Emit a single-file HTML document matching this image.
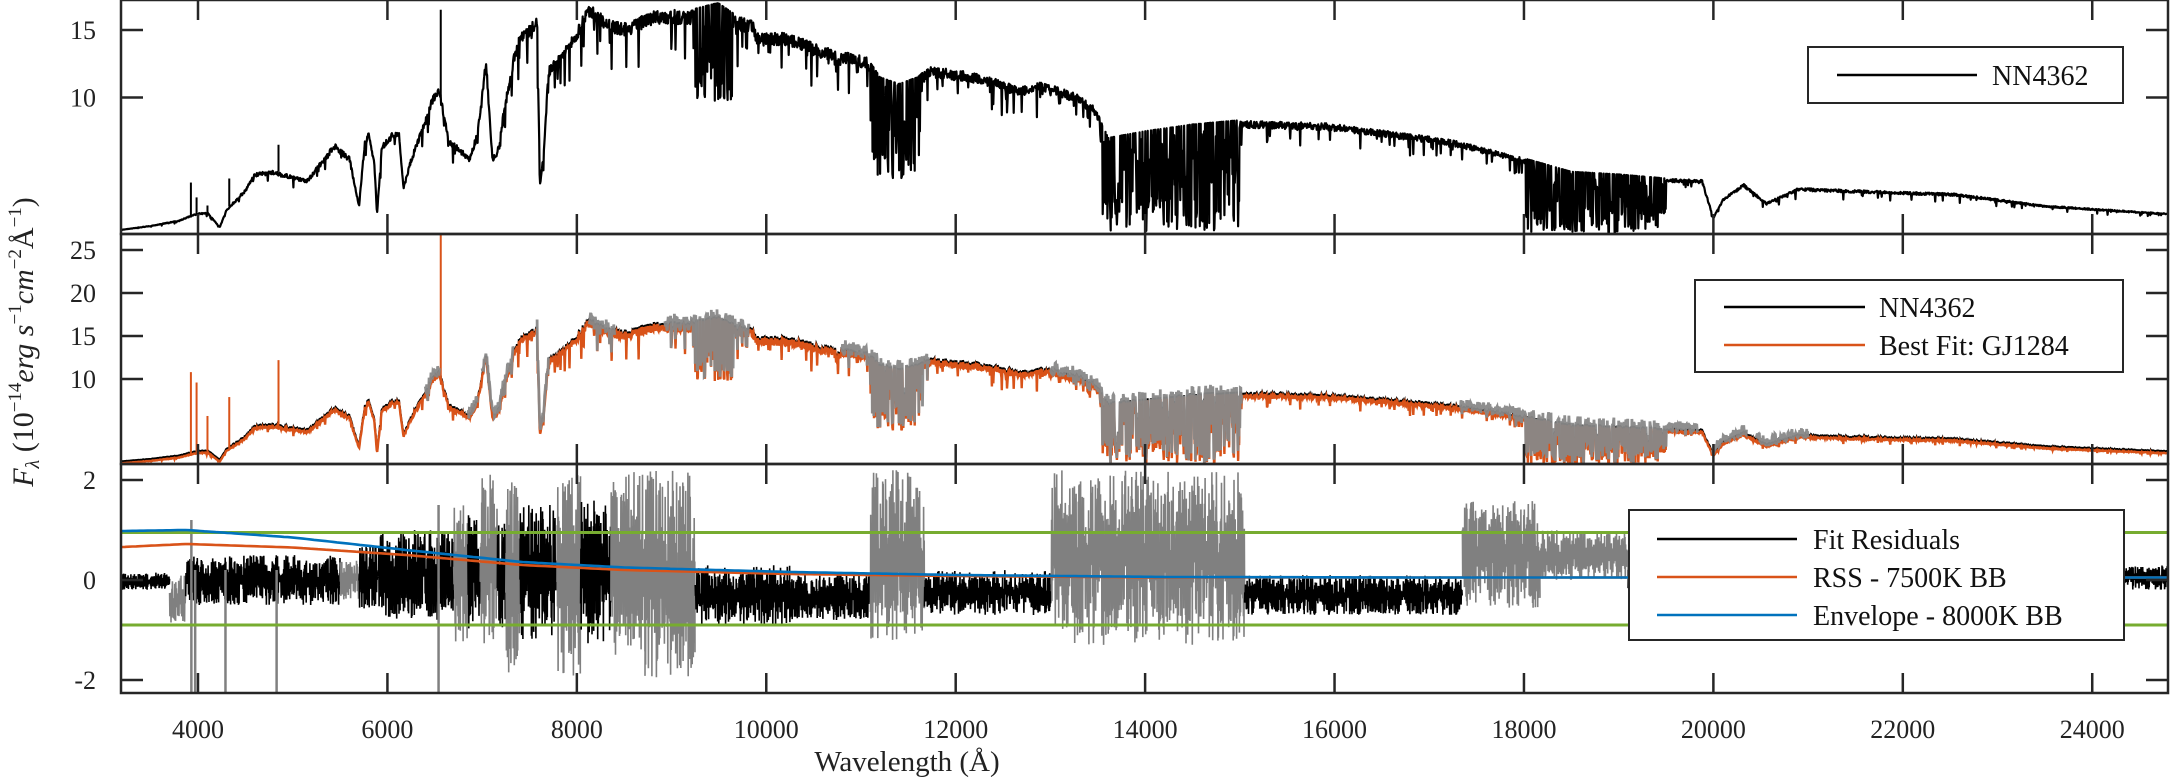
<!DOCTYPE html>
<html><head><meta charset="utf-8">
<style>
html,body{margin:0;padding:0;background:#fff;}
svg{display:block;font-family:"Liberation Serif",serif;}
</style></head>
<body>
<svg id="chart" width="2170" height="783" viewBox="0 0 2170 783" xmlns="http://www.w3.org/2000/svg">
<defs>
<clipPath id="clipTop"><rect x="121" y="0" width="2047" height="234"/></clipPath>
<clipPath id="clipMid"><rect x="121" y="234" width="2047" height="230"/></clipPath>
<clipPath id="clipBot"><rect x="121" y="464" width="2047" height="229"/></clipPath>
</defs>
<g id="plots"></g>
<g id="axes"></g>
<text transform="translate(33,342) rotate(-90)" text-anchor="middle" font-size="30" fill="#222"><tspan font-style="italic">F</tspan><tspan font-size="20" font-style="italic" dy="6">λ</tspan><tspan dy="-6"> (10</tspan><tspan font-size="19" dy="-12">−14</tspan><tspan font-style="italic" dy="12">erg s</tspan><tspan font-size="19" dy="-12">−1</tspan><tspan font-style="italic" dy="12">cm</tspan><tspan font-size="19" dy="-12">−2</tspan><tspan dy="12">Å</tspan><tspan font-size="19" dy="-12">−1</tspan><tspan dy="12">)</tspan></text>
<text x="907" y="771" text-anchor="middle" font-size="29" fill="#222">Wavelength (Å)</text>
</svg>
<script>
// ---- data ----
const specLambda=[3187,3500,3800,3980,4100,4230,4300,4500,4600,4800,5000,5150,5300,5440,5600,5700,5760,5800,5860,5890,5940,6050,6120,6170,6250,6400,6470,6540,6650,6870,6950,7040,7110,7180,7230,7370,7580,7610,7650,7700,7850,7980,8130,8360,8500,8840,9210,9490,9700,9870,9900,10250,10570,11060,11200,11400,11600,11720,12250,12670,12900,13280,13470,13610,14000,14500,14970,15920,16480,17220,17950,18500,19000,19500,19880,20000,20100,20320,20560,20900,22070,22550,23510,24810];
const specFlux=[0.2,0.5,0.9,1.4,1.5,0.4,1.7,3.2,4.4,4.6,4.2,3.9,5.3,6.6,5.6,2.0,6.8,7.4,5.5,1.4,6.5,7.4,7.6,3.4,5.5,8.5,10.0,11.0,7.0,5.6,7.5,13.0,5.5,6.5,9.3,14.5,16.2,3.6,6.0,12.3,13.5,15.0,16.9,15.7,15.5,16.5,16.5,17.0,16.0,15.7,14.8,14.8,13.8,13.0,11.5,11.0,11.5,12.3,11.8,10.8,11.2,10.3,9.3,7.0,7.5,8.0,8.3,8.1,7.6,6.9,5.6,4.5,4.3,4.0,3.9,1.1,2.5,3.6,2.2,3.3,3.0,2.9,2.0,1.4];
const bandStart=[9250,11100,13550,18020];
const bandEnd=[9650,11650,15000,19500];
const bandLow=[9.5,4.0,0.1,0.0];
const emisLambda=[3925,3985,4100,4330,4850,6563];
const emisTop=[3.7,2.6,2.0,4.0,6.5,16.5];
const emisModel=[10.8,9.6,5.7,7.9,12.2,28];
const maskStart=[6400,6850,7000,7580,8130,8930,9260,10800,13000,17330,19990,20450];
const maskEnd=[6550,6950,7330,7700,8400,9260,9820,11720,15020,19840,20350,21000];
const resStart=[3187,3700,3870,5500,5700,5900,6700,6850,6980,7160,7250,7400,7790,8040,8360,8720,9250,10250,11100,11670,13010,15050,17350,18170,19100];
const resEnd=[3700,3870,5500,5700,5900,6700,6850,6980,7160,7250,7400,7790,8040,8360,8720,9250,10250,11100,11670,13010,15050,17350,18170,19100,24810];
const resLow=[-0.2,-0.9,-0.5,-0.4,-0.6,-0.8,-1.3,-1.0,-1.3,-1.0,-2.0,-1.2,-2.0,-1.3,-1.5,-2.0,-0.9,-0.8,-1.2,-0.7,-1.3,-0.7,-0.6,0.0,-0.2];
const resHigh=[0.15,0.1,0.5,0.4,0.7,1.0,1.5,1.3,2.2,1.3,2.2,1.5,2.2,1.6,2.2,2.2,0.3,0.1,2.2,0.2,2.2,0.1,1.6,1.0,0.3];
const resGray=[0,1,0,1,0,0,1,0,1,0,1,0,1,0,1,1,0,0,1,0,1,0,1,1,0];
const spikeLambda=[3930,3970,4290,4830,6540];
const spikeLow=[-3,-3,-3,-3,-3];
const spikeHigh=[1.2,0.2,0.2,0.2,1.5];
const bbLambda=[3200,3880,5000,6200,7420,8500,10250,12000,14260,17000,20000,24810];
const envVals=[0.98,1.0,0.85,0.6,0.36,0.25,0.16,0.1,0.06,0.05,0.05,0.05];
const rssVals=[0.66,0.72,0.65,0.5,0.3,0.2,0.12,0.08,0.05,0.05,0.05,0.05];
const yTopTicks=[10,15];
const yMidTicks=[10,15,20,25];
const yBotTicks=[-2,0,2];
const xTicks=[4000,6000,8000,10000,12000,14000,16000,18000,20000,22000,24000];
const envLevel=[0.95,-0.9];
// ---- scales ----
const X0=121,X1=2168,L0=3187,L1=24800;
const xs=l=>X0+(l-L0)*(X1-X0)/(L1-L0);
const yTop=v=>232.5-v*13.5;
const yMid=v=>465-v*8.6;
const yBot=v=>580-v*50;
const NS='http://www.w3.org/2000/svg';
const plots=document.getElementById('plots'),axes=document.getElementById('axes');
function el(tag,attrs,parent){const e=document.createElementNS(NS,tag);for(const k in attrs)e.setAttribute(k,attrs[k]);(parent||plots).appendChild(e);return e;}
function interp(xa,ya,x){if(x<=xa[0])return ya[0];for(let i=1;i<xa.length;i++){if(x<=xa[i]){const t=(x-xa[i-1])/(xa[i]-xa[i-1]);return ya[i-1]+t*(ya[i]-ya[i-1]);}}return ya[ya.length-1];}
function texture(i){const s=Math.sin(i*12.9898+78.233)*43758.5453;return s-Math.floor(s);}
function bandAt(l){for(let b=0;b<bandStart.length;b++){if(l>=bandStart[b]&&l<=bandEnd[b])return b;}return -1;}
function fluxAt(l,i){let f=interp(specLambda,specFlux,l);const b=bandAt(l);
  const t=texture(i);
  if(b>=0){if(t>0.3){f=f-Math.pow((t-0.3)/0.7,0.8)*(f-bandLow[b]);}}
  else{f=f*(1-0.07*t);if(t>0.93)f=f*(1-(t-0.93)*2.5);}
  return f;}
const STEP=5;
function specPath(yf,lo,hi,scale,off){let d='';let i=Math.floor(lo/STEP);for(let l=lo;l<=hi;l+=STEP,i++){const f=fluxAt(l,i)*(scale||1)+(off?off*texture(i+7):0);d+=(d?'L':'M')+xs(l).toFixed(1)+','+yf(f).toFixed(1);}return d;}
function emis(yf,vals,g,color){for(let k=0;k<emisLambda.length;k++){const x=xs(emisLambda[k]);const b=interp(specLambda,specFlux,emisLambda[k]);
  const ln=el('line',{x1:x,x2:x,y1:yf(b),y2:yf(vals[k]),stroke:color,'stroke-width':2},g);
  
  }}
// top panel
const gTop=el('g',{'clip-path':'url(#clipTop)'});


const pTop=el('path',{d:specPath(yTop,L0,L1),fill:'none',stroke:'#000','stroke-width':2.2,'stroke-linejoin':'round'},gTop);


emis(yTop,emisTop,gTop,'#000');
// middle panel
const gMid=el('g',{'clip-path':'url(#clipMid)'});


const pMidB=el('path',{d:specPath(v=>yMid(v)-2,L0,L1),fill:'none',stroke:'#000','stroke-width':2},gMid);


const pMidO=el('path',{d:specPath(yMid,L0,L1),fill:'none',stroke:'#d95319','stroke-width':2.4},gMid);


emis(yMid,emisModel,gMid,'#d95319');
for(let m=0;m<maskStart.length;m++){
  const p=el('path',{d:specPath(yMid,maskStart[m],maskEnd[m],1,1.2),fill:'none',stroke:'#888','stroke-width':2.8,opacity:0.95},gMid);
  
  
}
// bottom panel
const gBot=el('g',{'clip-path':'url(#clipBot)'});


for(let r=0;r<resStart.length;r++){
  let d='';let i=Math.floor(resStart[r]/3);
  for(let l=resStart[r];l<=resEnd[r];l+=3,i++){const t=texture(i);const mid=(resLow[r]+resHigh[r])/2;const amp=(resHigh[r]-resLow[r])/2;
    const v=(i%2?mid+amp*Math.pow(t,1.3):mid-amp*Math.pow(t,1.3));d+=(d?'L':'M')+xs(l).toFixed(1)+','+yBot(v).toFixed(1);}
  const p=el('path',{d:d,fill:'none',stroke:resGray[r]?'#808080':'#000','stroke-width':1.6},gBot);
  
  
}
for(let k=0;k<spikeLambda.length;k++){const x=xs(spikeLambda[k]);
  const s=el('line',{x1:x,x2:x,y1:yBot(spikeLow[k]),y2:yBot(spikeHigh[k]),stroke:'#808080','stroke-width':2.5},gBot);
  
  }
for(let k=0;k<envLevel.length;k++){
  const g=el('line',{x1:X0,x2:X1,y1:yBot(envLevel[k]),y2:yBot(envLevel[k]),stroke:'#77ac30','stroke-width':3},gBot);
  
  }
function curve(vals,color,name){let d='';for(let l=L0;l<=L1;l+=40){d+=(d?'L':'M')+xs(l).toFixed(1)+','+yBot(interp(bbLambda,vals,l)).toFixed(1);}
  const p=el('path',{d:d,fill:'none',stroke:color,'stroke-width':2.6},gBot);
  
  }
curve(rssVals,'#d95319','rss-7500k-bb-curve');
curve(envVals,'#0072bd','envelope-8000k-bb-curve');
// axes frames & ticks
const panels=[[0,234,yTop,yTopTicks,'top'],[234,464,yMid,yMidTicks,'middle'],[464,693,yBot,yBotTicks,'bottom']];
for(const [t,b,yf,ticks,nm] of panels){
  const r=el('rect',{x:X0,y:t,width:X1-X0,height:b-t,fill:'none',stroke:'#262626','stroke-width':2.5},axes);
  
  
  for(const v of ticks){const y=yf(v);
    el('line',{x1:X0,x2:X0+22,y1:y,y2:y,stroke:'#262626','stroke-width':2.5},axes);
    el('line',{x1:X1-22,x2:X1,y1:y,y2:y,stroke:'#262626','stroke-width':2.5},axes);
    const tx=el('text',{x:96,y:y+9,'text-anchor':'end','font-size':26,fill:'#222'},axes);
    tx.textContent=v;
    
    }
  for(const l of xTicks){const x=xs(l);
    el('line',{x1:x,x2:x,y1:t,y2:t+20,stroke:'#262626','stroke-width':2.5},axes);
    el('line',{x1:x,x2:x,y1:b-20,y2:b,stroke:'#262626','stroke-width':2.5},axes);}
}
for(const l of xTicks){const tx=el('text',{x:xs(l),y:738,'text-anchor':'middle','font-size':26,fill:'#222'},axes);
  tx.textContent=l;
  
  }
// legends
function legend(x,y,w,h,items,lx1,lx2,tx,name){
  const g=el('g',{},axes);
  
  
  el('rect',{x:x,y:y,width:w,height:h,fill:'#fff',stroke:'#262626','stroke-width':2},g);
  for(const [label,color,cy] of items){
    el('line',{x1:lx1,x2:lx2,y1:cy,y2:cy,stroke:color,'stroke-width':2.5},g);
    const t=el('text',{x:tx,y:cy+10,'font-size':28,fill:'#111'},g);
    t.textContent=label;
    
    }
}
legend(1808,47,315,56,[['NN4362','#000',75]],1837,1977,1992,'top-legend');
legend(1695,280,428,92,[['NN4362','#000',307],['Best Fit: GJ1284','#d95319',345]],1724,1865,1879,'middle-legend');
legend(1629,510,495,130,[['Fit Residuals','#000',539],['RSS - 7500K BB','#d95319',577],['Envelope - 8000K BB','#0072bd',615]],1657,1797,1813,'bottom-legend');
</script>
</body></html>
